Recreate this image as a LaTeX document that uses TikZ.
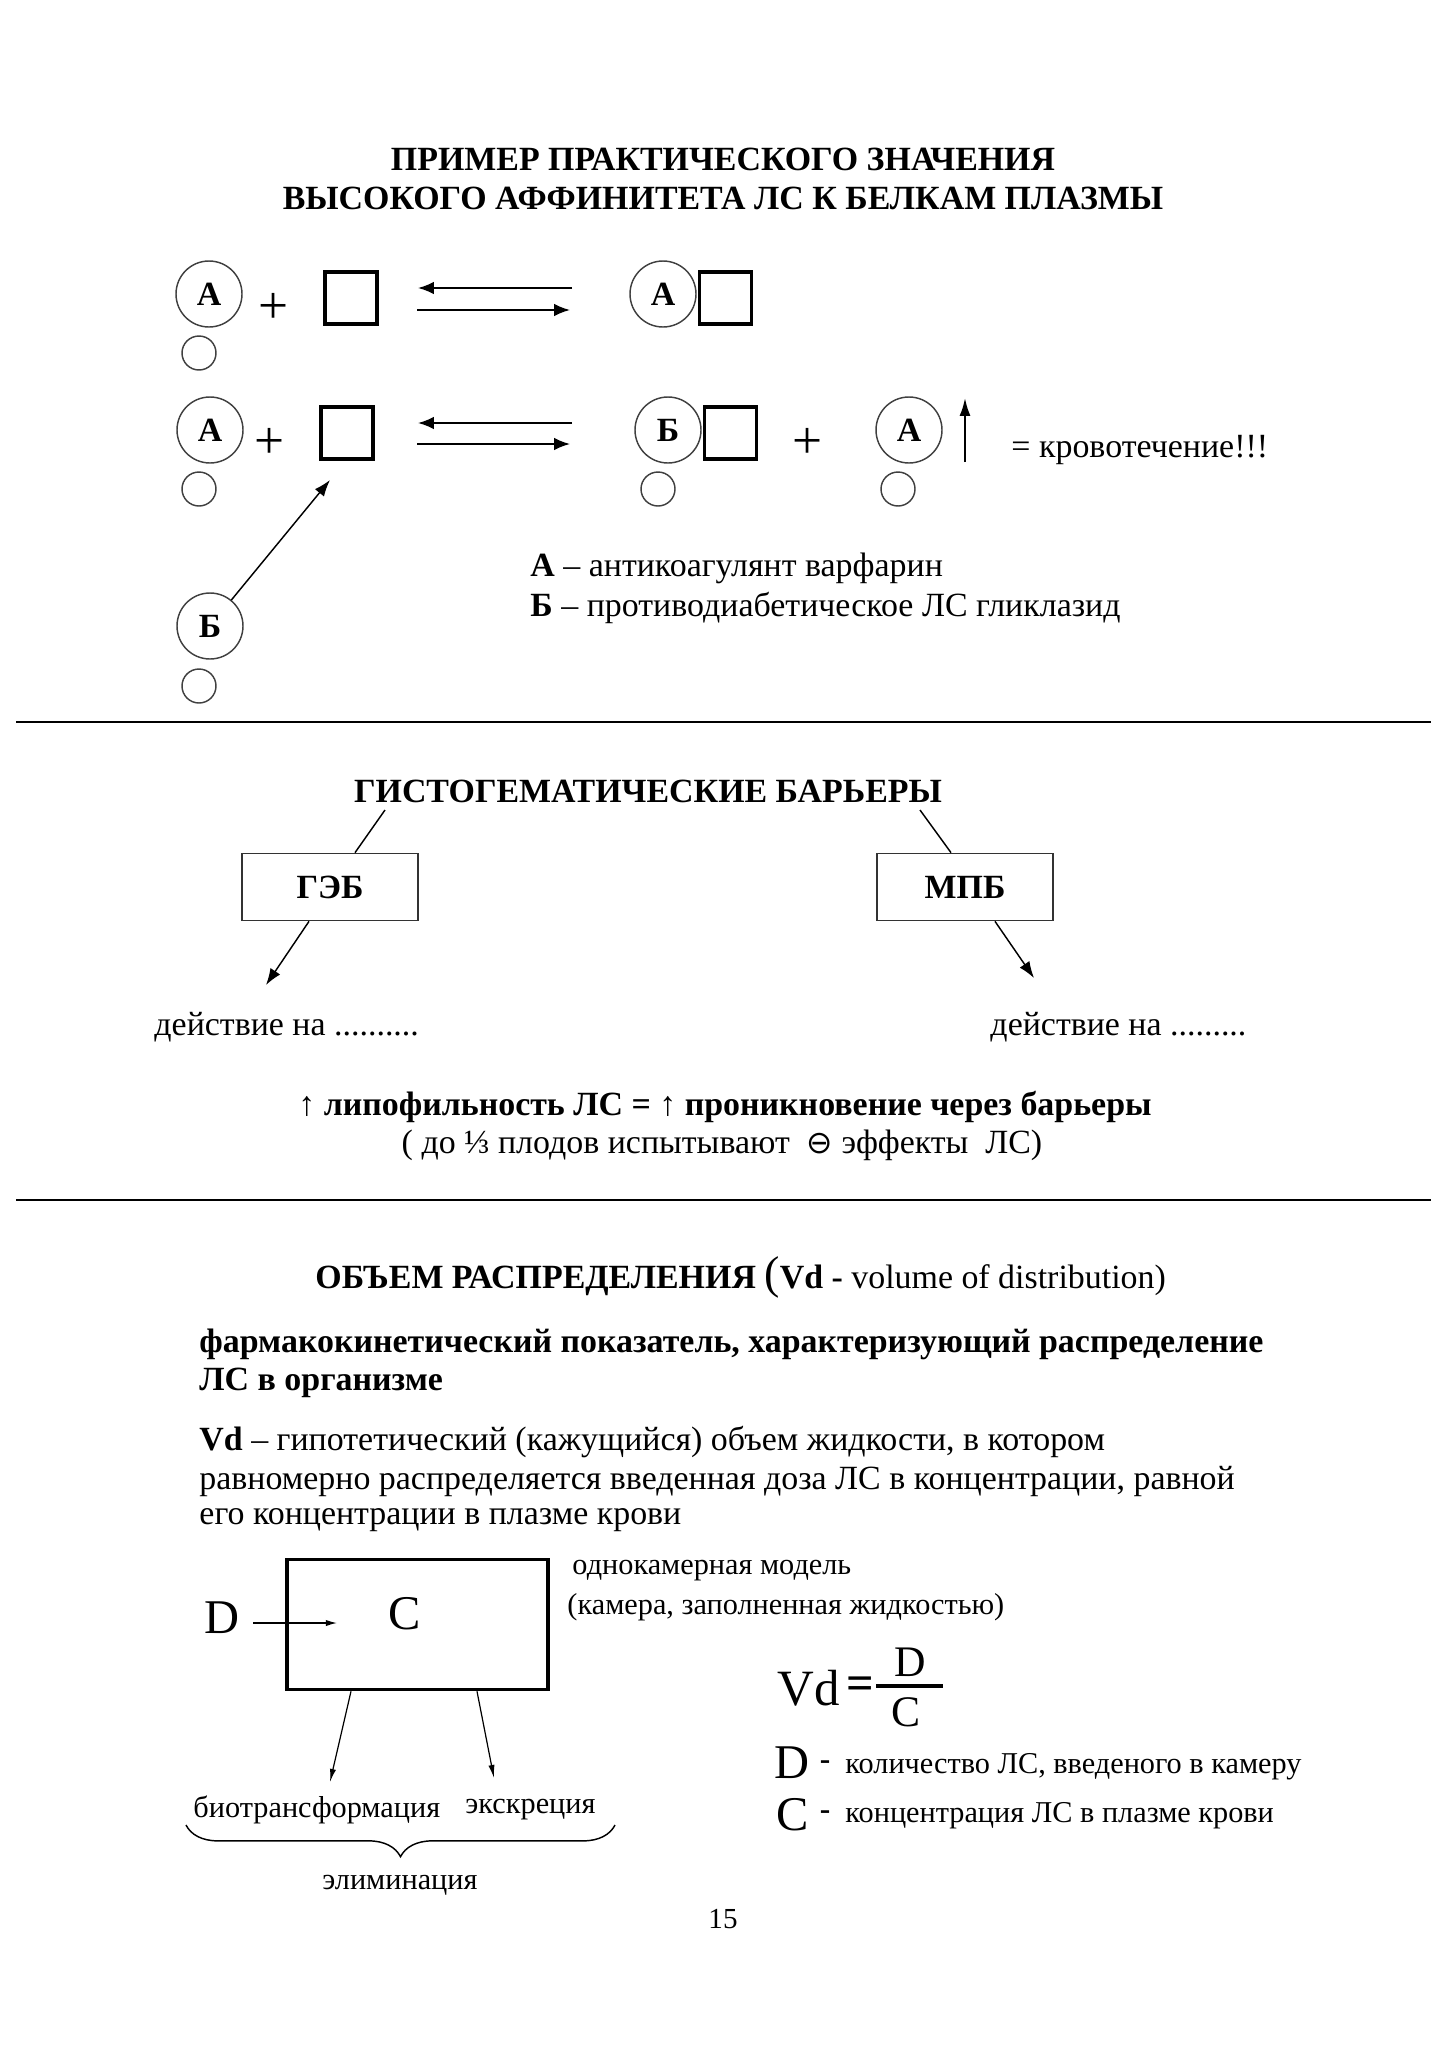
\documentclass[tikz,border=0pt]{standalone}
\usepackage{fontspec}
\setmainfont{Liberation Serif}
\newfontfamily\symfont{DejaVu Sans}
\usetikzlibrary{arrows.meta,decorations.pathreplacing}
\def\pu{0.14513mm}
\newcommand\fs[1]{\fontsize{#1}{#1}\selectfont}
\begin{document}
\begin{tikzpicture}[x=\pu,y=-\pu,
  bigc/.style={circle,draw=black!75,line width=0.6pt,minimum size=66*\pu,inner sep=0pt,font=\fs{14}\bfseries},
  smallc/.style={circle,draw=black!75,line width=0.6pt,minimum size=34*\pu,inner sep=0pt},
  sq/.style={draw,line width=1.4pt,minimum width=52*\pu,minimum height=52*\pu,inner sep=0pt},
  plus/.style={font=\fs{22},inner sep=0pt},
  txt/.style={font=\fs{14},inner sep=0pt,anchor=west},
  eqarr/.style={-{Latex[length=2.3mm,width=1.8mm]},line width=0.7pt},
  barr/.style={-{Latex[length=2.4mm,width=1.7mm]},line width=0.6pt},
  thinarr/.style={-{Latex[length=1.9mm,width=0.9mm]},line width=0.5pt},
  bbox/.style={draw=black!80,line width=0.7pt,minimum width=176*\pu,minimum height=67*\pu,inner sep=0pt,font=\fs{14}\bfseries},
  rule/.style={line width=0.8pt},
  lowtxt/.style={font=\fs{12.5},inner sep=0pt}
]
\useasboundingbox (0,0) rectangle (1447,2050);

% ---------- Section 1 ----------
\node[font=\fs{14}\bfseries,align=center,inner sep=0pt] (t1) at (723,179)
  {ПРИМЕР ПРАКТИЧЕСКОГО ЗНАЧЕНИЯ\\[2pt] ВЫСОКОГО АФФИНИТЕТА ЛС К БЕЛКАМ ПЛАЗМЫ};

% row 1
\node[bigc] (a1) at (209,294) {А};
\node[smallc] (s1) at (199,353) {};
\node[plus] (p1) at (274,308) {+};
\node[sq] (q1) at (351,298) {};
\coordinate (r1l) at (418,288); \coordinate (r1r) at (572,288);
\coordinate (f1l) at (417,310); \coordinate (f1r) at (570,310);
\draw[eqarr] (r1r) -- (r1l);
\draw[eqarr] (f1l) -- (f1r);
\node[bigc] (a2) at (663,294) {А};
\node[sq,anchor=west] (q2) at (698,298) {};

% row 2
\node[bigc] (a3) at (210,430) {А};
\node[smallc] (s3) at (199,489) {};
\node[plus] (p2) at (270,443) {+};
\node[sq] (q3) at (347,433) {};
\coordinate (r2l) at (418,423); \coordinate (r2r) at (572,423);
\coordinate (f2l) at (417,444); \coordinate (f2r) at (570,444);
\draw[eqarr] (r2r) -- (r2l);
\draw[eqarr] (f2l) -- (f2r);
\node[bigc] (b1) at (668,430) {Б};
\node[sq,anchor=west] (q4) at (703,433) {};
\node[smallc] (s4) at (658,489) {};
\node[plus] (p3) at (808,443) {+};
\node[bigc] (a4) at (909,430) {А};
\node[smallc] (s5) at (898,489) {};
\coordinate (up0) at (965,462); \coordinate (up1) at (965,398);
\draw[-{Latex[length=2.6mm,width=1.6mm]},line width=0.9pt] (up0) -- (up1);
\node[txt] (blood) at (1011,450) {= кровотечение!!!};

% Б below
\node[bigc] (b2) at (210,626) {Б};
\node[smallc] (s6) at (199,686) {};
\coordinate (bq) at (330,480);
\draw[barr] (b2) -- (bq);

\node[txt] (l1) at (530,568) {\textbf{А} – антикоагулянт варфарин};
\node[txt] (l2) at (530,608) {\textbf{Б} – противодиабетическое ЛС гликлазид};

\coordinate (h1a) at (16,722); \coordinate (h1b) at (1431,722);
\draw[rule] (h1a) -- (h1b);

% ---------- Section 2 ----------
\node[font=\fs{14}\bfseries,inner sep=0pt] (t2) at (648,791) {ГИСТОГЕМАТИЧЕСКИЕ БАРЬЕРЫ};
\node[bbox] (geb) at (330,887) {ГЭБ};
\node[bbox] (mpb) at (965,887) {МПБ};
\coordinate (t2l) at (385,810); \coordinate (t2r) at (920,810);
\draw[line width=0.6pt] (t2l) -- (geb.north -| 355,0);
\draw[line width=0.6pt] (t2r) -- (mpb.north -| 951,0);
\coordinate (ga) at (266,985); \coordinate (ma) at (1034,978);
\draw[barr] (geb.south -| 309,0) -- (ga);
\draw[barr] (mpb.south -| 995,0) -- (ma);
\node[txt] (d1) at (154,1027) {действие на ..........};
\node[txt] (d2) at (990,1027) {действие на .........};
\node[font=\fs{14}\bfseries,inner sep=0pt] (lip) at (725,1107) {↑ липофильность ЛС = ↑ проникновение через барьеры};
\node[font=\fs{14},inner sep=0pt] (plod) at (722,1145) {( до ⅓ плодов испытывают \ {\symfont\fs{13}⊖} эффекты \ ЛС)};

\coordinate (h2a) at (16,1200); \coordinate (h2b) at (1431,1200);
\draw[rule] (h2a) -- (h2b);

% ---------- Section 3 ----------
\node[txt] (t3) at (315,1277) {\textbf{ОБЪЕМ РАСПРЕДЕЛЕНИЯ }{\fs{19}(}\textbf{Vd -} volume of distribution)};
\node[txt,font=\fs{14}\bfseries] (p1a) at (199,1344) {фармакокинетический показатель, характеризующий распределение};
\node[txt,font=\fs{14}\bfseries] (p1b) at (199,1383) {ЛС в организме};
\node[txt] (p2a) at (199,1442) {\textbf{Vd} – гипотетический (кажущийся) объем жидкости, в котором};
\node[txt] (p2b) at (199,1481) {равномерно распределяется введенная доза ЛС в концентрации, равной};
\node[txt] (p2c) at (199,1520) {его концентрации в плазме крови};

% one-compartment model
\node[draw,line width=1.5pt,minimum width=261*\pu,minimum height=130*\pu,inner sep=0pt] (cam) at (417.5,1624.5) {};
\node[font=\fs{20},inner sep=0pt] (cC) at (405,1614) {C};
\node[font=\fs{20},inner sep=0pt] (dD) at (222,1618) {D};
\coordinate (dst) at (253,1623); \coordinate (darr) at (337,1623);
\draw[-{Latex[length=1.6mm,width=0.9mm]},line width=0.5pt] (dst) -- (darr);
\coordinate (bio) at (330,1782); \coordinate (exc) at (494,1778);
\draw[thinarr] (cam.south -| 351,0) -- (bio);
\draw[thinarr] (cam.south -| 477,0) -- (exc);
\node[lowtxt,anchor=west] (bt) at (193,1810) {биотрансформация};
\node[lowtxt,anchor=west] (ex) at (465,1810) {экскреция};
\coordinate (brR) at (615,1825); \coordinate (brL) at (186,1825);
\draw[line width=0.6pt,decorate,decoration={brace,amplitude=4.6mm,aspect=0.5}] (brR) -- (brL);
\node[lowtxt] (elim) at (400,1885) {элиминация};

\node[lowtxt,anchor=west] (m1) at (572,1571) {однокамерная модель};
\node[lowtxt,anchor=west] (m2) at (567,1607) {(камера, заполненная жидкостью)};

\node[font=\fs{21},inner sep=0pt,anchor=east] (vd) at (840,1688) {Vd};
\node[font=\fs{20}\bfseries,inner sep=0pt] (veq) at (860,1688) {=};
\coordinate (fb1) at (876,1686); \coordinate (fb2) at (943,1686);
\draw[line width=1.8pt] (fb1) -- (fb2);
\node[font=\fs{18},inner sep=0pt] (fD) at (910,1662) {D};
\node[font=\fs{18},inner sep=0pt] (fC) at (906,1712) {C};

\node[font=\fs{20},inner sep=0pt,anchor=west] (kD) at (774,1763) {D};
\node[font=\fs{13}\bfseries,inner sep=0pt] (kDm) at (825,1765) {-};
\node[lowtxt,anchor=west] (kDt) at (845,1767) {количество ЛС, введеного в камеру};
\node[font=\fs{20},inner sep=0pt,anchor=west] (kC) at (776,1815) {C};
\node[font=\fs{13}\bfseries,inner sep=0pt] (kCm) at (825,1815) {-};
\node[lowtxt,anchor=west] (kCt) at (845,1816) {концентрация ЛС в плазме крови};

\node[font=\fs{12},inner sep=0pt] (pg) at (723,1919) {15};
\end{tikzpicture}
\end{document}
